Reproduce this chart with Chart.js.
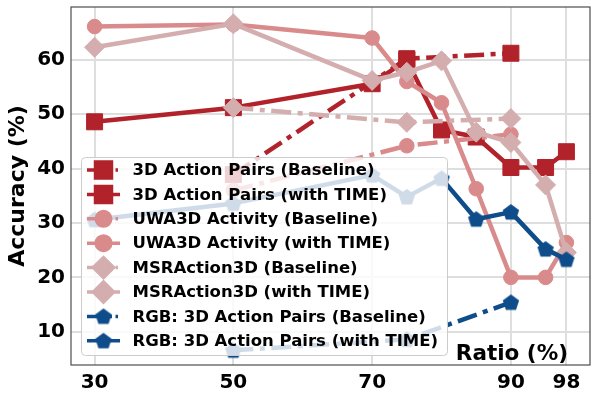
<!DOCTYPE html>
<html lang="en">
<head>
<meta charset="UTF-8">
<title>Accuracy vs Ratio</title>
<script src="https://cdn.jsdelivr.net/npm/chart.js"></script>
<style>
    html, body { margin: 0; padding: 0; background: #ffffff; }
    #grafico { display: block; }
</style>
</head>
<body>
<canvas id="grafico" width="598" height="399"></canvas>

<script>
    // ratios (%) on the x axis
    const ratiosTime = [30, 50, 70, 75, 80, 85, 90, 95, 98];
    const ratiosBase = [50, 75, 90];
    const xTicks = [30, 50, 70, 90, 98];
    const yTicks = [10, 20, 30, 40, 50, 60];

    // accuracy (%)
    const apBase = [38.9, 60.2, 61.2];
    const apTime = [48.6, 51.2, 55.6, 60.0, 47.1, 45.8, 40.2, 40.2, 43.1];
    const uwaBase = [36.0, 44.2, 46.3];
    const uwaTime = [66.1, 66.5, 64.0, 56.0, 52.1, 36.3, 20.0, 20.0, 26.4];
    const msrBase = [51.2, 48.5, 49.2];
    const msrTime = [62.3, 66.6, 56.2, 57.7, 59.8, 46.7, 44.8, 37.0, 24.6];
    const rgbBase = [6.6, 8.6, 15.4];
    const rgbTime = [30.6, 33.6, 38.8, 34.8, 38.2, 30.7, 32.0, 25.2, 23.3];

    const nomes = [
        "3D Action Pairs (Baseline)", "3D Action Pairs (with TIME)",
        "UWA3D Activity (Baseline)", "UWA3D Activity (with TIME)",
        "MSRAction3D (Baseline)", "MSRAction3D (with TIME)",
        "RGB: 3D Action Pairs (Baseline)", "RGB: 3D Action Pairs (with TIME)"
    ];

    const corAP = "#b2222a";
    const corUWA = "#d98b8c";
    const corMSR = "#d4adaf";
    const corRGB = "#0f4c8a";
    const tracoPonto = [20, 6.5, 5, 6.5];
    const fonte = "'DejaVu Sans', sans-serif";

    // pentagon marker (Chart.js has no built-in pentagon)
    function fazerPentagono(cor) {
        const c = document.createElement("canvas");
        c.width = 18; c.height = 18;
        const g = c.getContext("2d");
        g.fillStyle = cor;
        g.beginPath();
        for (let k = 0; k < 5; k++) {
            const a = -Math.PI / 2 + k * 2 * Math.PI / 5;
            const px = 9 + 8.6 * Math.cos(a);
            const py = 9.6 + 8.6 * Math.sin(a);
            if (k === 0) g.moveTo(px, py); else g.lineTo(px, py);
        }
        g.closePath();
        g.fill();
        return c;
    }
    const pentagono = fazerPentagono(corRGB);

    function juntar(xs, ys) {
        return xs.map((x, i) => ({ x: x, y: ys[i] }));
    }

    function serie(i, xs, ys, cor, estilo, raio, tracejado) {
        return {
            label: nomes[i],
            data: juntar(xs, ys),
            borderColor: cor,
            backgroundColor: cor,
            pointBackgroundColor: cor,
            pointBorderColor: cor,
            borderWidth: 4.5,
            borderDash: tracejado ? tracoPonto : [],
            borderCapStyle: "butt",
            borderJoinStyle: "round",
            pointStyle: estilo,
            pointRadius: raio,
            pointHoverRadius: raio,
            pointBorderWidth: 1,
            tension: 0,
            fill: false,
            order: 8 - i
        };
    }

    const datasets = [
        serie(0, ratiosBase, apBase, corAP, "rect", 11.3, true),
        serie(1, ratiosTime, apTime, corAP, "rect", 11.3, false),
        serie(2, ratiosBase, uwaBase, corUWA, "circle", 7.3, true),
        serie(3, ratiosTime, uwaTime, corUWA, "circle", 7.3, false),
        serie(4, ratiosBase, msrBase, corMSR, "rectRot", 10, true),
        serie(5, ratiosTime, msrTime, corMSR, "rectRot", 10, false),
        serie(6, ratiosBase, rgbBase, corRGB, pentagono, 8, true),
        serie(7, ratiosTime, rgbTime, corRGB, pentagono, 8, false)
    ];

    function desenharMarcador(ctx, ds, x, y) {
        Chart.helpers.drawPoint(ctx, {
            pointStyle: ds.pointStyle,
            radius: ds.pointRadius,
            borderWidth: 1,
            rotation: 0
        }, x, y);
    }

    // frame, legend (semi transparent, on top of the lines) and the x title inside the plot
    const legendaPlugin = {
        id: "legendaCaixa",
        afterDatasetsDraw(chart) {
            const ctx = chart.ctx;
            const a = chart.chartArea;
            ctx.save();
            ctx.strokeStyle = "#4d4d4d";
            ctx.lineWidth = 1.2;
            ctx.strokeRect(a.left, a.top, a.right - a.left, a.bottom - a.top);
            ctx.restore();
        },
        afterDraw(chart) {
            const ctx = chart.ctx;
            const a = chart.chartArea;
            const bx = a.left + 10.5, by = a.top + 150.5, bw = 366, bh = 198;
            ctx.save();
            ctx.beginPath();
            ctx.roundRect(bx, by, bw, bh, 4);
            ctx.fillStyle = "rgba(255,255,255,0.8)";
            ctx.fill();
            ctx.strokeStyle = "#cccccc";
            ctx.lineWidth = 1;
            ctx.stroke();

            chart.data.datasets.forEach((ds, i) => {
                const y = by + 12.5 + i * 24.4;
                const x0 = bx + 5.5, x1 = bx + 38.5;
                ctx.save();
                ctx.strokeStyle = ds.borderColor;
                ctx.lineWidth = 3.5;
                ctx.lineCap = "butt";
                ctx.setLineDash(ds.borderDash.length ? [25, 3.5, 2.5, 10] : []);
                ctx.beginPath();
                ctx.moveTo(x0, y);
                ctx.lineTo(x1, y);
                ctx.stroke();
                ctx.setLineDash([]);
                ctx.fillStyle = ds.backgroundColor;
                ctx.strokeStyle = ds.borderColor;
                desenharMarcador(ctx, ds, (x0 + x1) / 2, y);
                ctx.restore();

                ctx.fillStyle = "#000000";
                ctx.font = "bold 16.5px " + fonte;
                ctx.textAlign = "left";
                ctx.textBaseline = "middle";
                ctx.fillText(ds.label, bx + 51, y + 1);
            });

            ctx.fillStyle = "#000000";
            ctx.font = "bold 21.5px " + fonte;
            ctx.textAlign = "right";
            ctx.textBaseline = "alphabetic";
            ctx.fillText("Ratio (%)", a.right - 22, a.bottom - 5);
            ctx.restore();
        }
    };

    const ctx = document.getElementById("grafico").getContext("2d");
    const grafico = new Chart(ctx, {
        type: "line",
        data: { datasets: datasets },
        options: {
            responsive: false,
            animation: false,
            events: [],
            layout: {
                autoPadding: false,
                padding: { left: 0, right: 8, top: 7, bottom: 0 }
            },
            plugins: {
                legend: { display: false },
                tooltip: { enabled: false }
            },
            scales: {
                x: {
                    type: "linear",
                    min: 26.6,
                    max: 101.4,
                    afterBuildTicks: s => { s.ticks = xTicks.map(v => ({ value: v })); },
                    afterFit: s => { s.height = 34; s.paddingLeft = 0; s.paddingRight = 0; },
                    grid: { color: "#dedede", lineWidth: 2, drawTicks: false },
                    border: { display: false },
                    ticks: {
                        color: "#000000",
                        padding: 6,
                        maxRotation: 0,
                        font: { family: fonte, weight: "bold", size: 20 }
                    }
                },
                y: {
                    min: 3.9,
                    max: 69.7,
                    afterBuildTicks: s => { s.ticks = yTicks.map(v => ({ value: v })); },
                    afterFit: s => { s.width = 71; s.paddingTop = 0; s.paddingBottom = 0; },
                    grid: { color: "#dedede", lineWidth: 2, drawTicks: false },
                    border: { display: false },
                    ticks: {
                        color: "#000000",
                        padding: 6,
                        font: { family: fonte, weight: "bold", size: 20 }
                    },
                    title: {
                        display: true,
                        text: "Accuracy (%)",
                        color: "#000000",
                        padding: { top: 5, bottom: 0 },
                        font: { family: fonte, weight: "bold", size: 22 }
                    }
                }
            }
        },
        plugins: [legendaPlugin]
    });
</script>
</body>
</html>
